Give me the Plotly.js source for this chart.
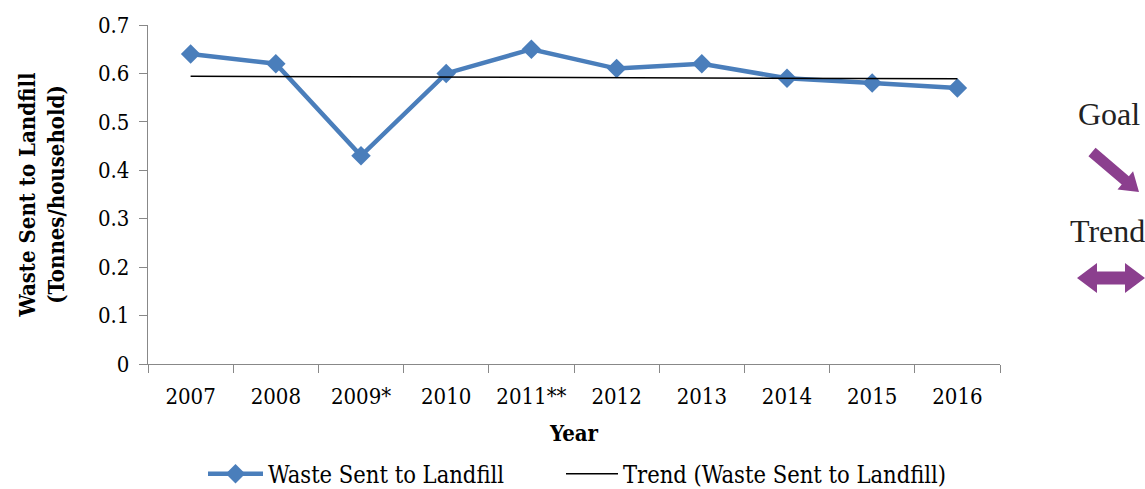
<!DOCTYPE html>
<html>
<head>
<meta charset="utf-8">
<script src="https://cdn.plot.ly/plotly-3.0.1.min.js"></script>
<style>html,body{margin:0;padding:0;background:#fff;}#chart{width:1145px;height:489px;}</style>
</head>
<body>
<div id="chart"></div>
<script>
const years = ["2007","2008","2009*","2010","2011**","2012","2013","2014","2015","2016"];
const waste = [0.64, 0.62, 0.43, 0.60, 0.65, 0.61, 0.62, 0.59, 0.58, 0.57];
const trendYears = ["2007","2016"];
const trendValues = [0.594, 0.589];
const yTicks = [0, 0.1, 0.2, 0.3, 0.4, 0.5, 0.6, 0.7];
const yTickText = ["0","0.1","0.2","0.3","0.4","0.5","0.6","0.7"];

const W = 1145, H = 489;
const L = 148, R = 145, T = 25, B = 0;
const AXIS_BOTTOM = 364;
const pw = W - L - R, ph = H - T - B;
function px(x){ return (x - L) / pw; }
function py(y){ return (H - B - y) / ph; }
function path(pts){
  return 'M' + pts.map(p => px(p[0]).toFixed(5) + ',' + py(p[1]).toFixed(5)).join(' L') + ' Z';
}
function goalArrow(){
  const sx = 1092, sy = 152, tx = 1139, ty = 192;
  const dx = tx - sx, dy = ty - sy, len = Math.hypot(dx, dy);
  const ux = dx/len, uy = dy/len, nx = -uy, ny = ux;
  const hw = 5.5, hh = 12, hl = 18;
  const bx = tx - ux*hl, by = ty - uy*hl;
  return [
    [sx + nx*hw, sy + ny*hw],
    [bx + nx*hw, by + ny*hw],
    [bx + nx*hh, by + ny*hh],
    [tx, ty],
    [bx - nx*hh, by - ny*hh],
    [bx - nx*hw, by - ny*hw],
    [sx - nx*hw, sy - ny*hw]
  ];
}
function trendArrow(){
  const x1 = 1077, x2 = 1145, cy = 278, hw = 6.5, hh = 15, hl = 20;
  return [
    [x1, cy], [x1+hl, cy-hh], [x1+hl, cy-hw], [x2-hl, cy-hw], [x2-hl, cy-hh],
    [x2, cy], [x2-hl, cy+hh], [x2-hl, cy+hw], [x1+hl, cy+hw], [x1+hl, cy+hh]
  ];
}
const purple = '#8B3F8E';
const serif = 'Liberation Serif, Times New Roman, serif';
const cfam = 'DejaVu Serif Condensed, DejaVu Serif, serif';
const tickFont = {family: cfam, size: 22, color: '#000'};
const legFont = {family: cfam, size: 23.5, color: '#000'};

const data = [
  {x: years, y: waste, type: 'scatter', mode: 'lines+markers', name: 'Waste Sent to Landfill',
   line: {color: '#4A7EBB', width: 4.5}, marker: {symbol: 'diamond', size: 15, color: '#4A7EBB'},
   legend: 'legend'},
  {x: trendYears, y: trendValues, type: 'scatter', mode: 'lines', name: 'Trend (Waste Sent to Landfill)',
   line: {color: '#000', width: 1.5}, legend: 'legend2'}
];

const layout = {
  width: W, height: H,
  margin: {l: L, r: R, t: T, b: B, autoexpand: false},
  paper_bgcolor: '#fff', plot_bgcolor: '#fff',
  showlegend: true,
  legend: {orientation: 'h', x: px(203), xanchor: 'left', y: py(474), yanchor: 'middle',
           font: legFont, itemwidth: 55, bgcolor: 'rgba(0,0,0,0)'},
  legend2: {orientation: 'h', x: px(561), xanchor: 'left', y: py(474), yanchor: 'middle',
           font: legFont, itemwidth: 52, bgcolor: 'rgba(0,0,0,0)'},
  xaxis: {type: 'category', categoryarray: years, categoryorder: 'array', range: [-0.5, 9.5],
          showgrid: false, zeroline: false, showline: true, linecolor: '#888', linewidth: 1.2,
          ticks: 'outside', tickson: 'boundaries', ticklen: 8, tickcolor: '#888', tickwidth: 1,
          tickfont: tickFont, ticklabelstandoff: 12, automargin: false,
          title: {text: '<b>Year</b>', font: {family: cfam, size: 22, color: '#000'}, standoff: 18},
          fixedrange: true},
  yaxis: {range: [0, 0.7], tickvals: yTicks, ticktext: yTickText, domain: [py(AXIS_BOTTOM), 1],
          showgrid: false, zeroline: false, showline: true, linecolor: '#888', linewidth: 1.2,
          ticks: 'outside', ticklen: 8, tickcolor: '#888', tickwidth: 1,
          tickfont: tickFont, ticklabelstandoff: 5, automargin: false,
          title: {text: '<b>Waste Sent to Landfill<br>(Tonnes/household)</b>', font: {family: cfam, size: 22, color: '#000'}, standoff: 27},
          fixedrange: true},
  shapes: [
    {type: 'path', xref: 'paper', yref: 'paper', path: path(goalArrow()), fillcolor: purple, line: {width: 0}, layer: 'above'},
    {type: 'path', xref: 'paper', yref: 'paper', path: path(trendArrow()), fillcolor: purple, line: {width: 0}, layer: 'above'}
  ],
  annotations: [
    {text: 'Goal', xref: 'paper', yref: 'paper', x: px(1109), y: py(114), xanchor: 'center', yanchor: 'middle',
     showarrow: false, font: {family: serif, size: 32, color: '#222'}},
    {text: 'Trend', xref: 'paper', yref: 'paper', x: px(1107), y: py(231), xanchor: 'center', yanchor: 'middle',
     showarrow: false, font: {family: serif, size: 32, color: '#222'}}
  ]
};
Plotly.newPlot('chart', data, layout, {displayModeBar: false, staticPlot: true});
</script>
</body>
</html>
